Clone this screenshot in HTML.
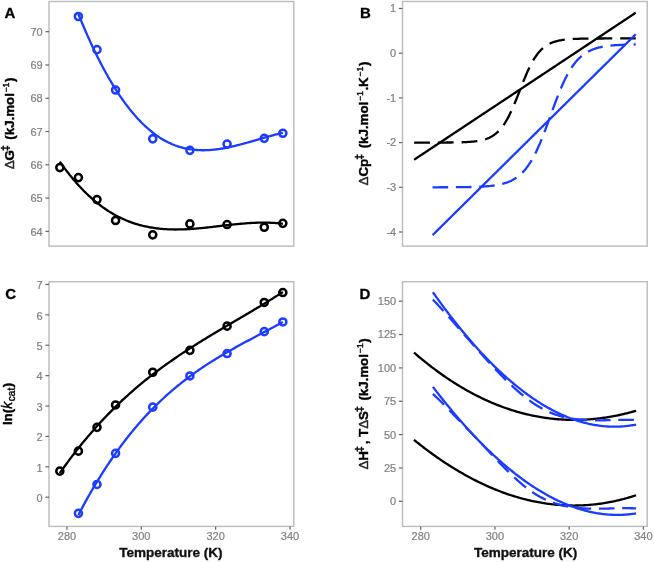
<!DOCTYPE html>
<html><head><meta charset="utf-8"><style>
html,body{margin:0;padding:0;background:#fff;width:654px;height:562px;overflow:hidden}
svg{display:block;filter:blur(0.45px)}
</style></head><body>
<svg width="654" height="562" viewBox="0 0 654 562" font-family="Liberation Sans, sans-serif">
<rect width="654" height="562" fill="#fff"/>
<rect transform="translate(0.5,0.5)" x="48.5" y="1.0" width="244.80" height="244.60" fill="none" stroke="#bdbdbd" stroke-width="1.45"/>
<rect transform="translate(0.5,0.5)" x="402.0" y="1.0" width="244.70" height="244.60" fill="none" stroke="#bdbdbd" stroke-width="1.45"/>
<rect transform="translate(0.5,0.5)" x="48.5" y="281.2" width="244.80" height="244.70" fill="none" stroke="#bdbdbd" stroke-width="1.45"/>
<rect transform="translate(0.5,0.5)" x="402.0" y="281.2" width="244.70" height="244.70" fill="none" stroke="#bdbdbd" stroke-width="1.45"/>
<line transform="translate(0.5,0.5)" x1="44.90" y1="230.85" x2="48.50" y2="230.85" stroke="#666" stroke-width="1.2"/>
<text x="42.70" y="235.55" text-anchor="end" font-size="11" fill="#808080" stroke="#808080" stroke-width="0.2">64</text>
<line transform="translate(0.5,0.5)" x1="44.90" y1="197.57" x2="48.50" y2="197.57" stroke="#666" stroke-width="1.2"/>
<text x="42.70" y="202.27" text-anchor="end" font-size="11" fill="#808080" stroke="#808080" stroke-width="0.2">65</text>
<line transform="translate(0.5,0.5)" x1="44.90" y1="164.30" x2="48.50" y2="164.30" stroke="#666" stroke-width="1.2"/>
<text x="42.70" y="169.00" text-anchor="end" font-size="11" fill="#808080" stroke="#808080" stroke-width="0.2">66</text>
<line transform="translate(0.5,0.5)" x1="44.90" y1="131.03" x2="48.50" y2="131.03" stroke="#666" stroke-width="1.2"/>
<text x="42.70" y="135.72" text-anchor="end" font-size="11" fill="#808080" stroke="#808080" stroke-width="0.2">67</text>
<line transform="translate(0.5,0.5)" x1="44.90" y1="97.75" x2="48.50" y2="97.75" stroke="#666" stroke-width="1.2"/>
<text x="42.70" y="102.45" text-anchor="end" font-size="11" fill="#808080" stroke="#808080" stroke-width="0.2">68</text>
<line transform="translate(0.5,0.5)" x1="44.90" y1="64.47" x2="48.50" y2="64.47" stroke="#666" stroke-width="1.2"/>
<text x="42.70" y="69.17" text-anchor="end" font-size="11" fill="#808080" stroke="#808080" stroke-width="0.2">69</text>
<line transform="translate(0.5,0.5)" x1="44.90" y1="31.20" x2="48.50" y2="31.20" stroke="#666" stroke-width="1.2"/>
<text x="42.70" y="35.90" text-anchor="end" font-size="11" fill="#808080" stroke="#808080" stroke-width="0.2">70</text>
<line transform="translate(0.5,0.5)" x1="398.40" y1="231.50" x2="402.00" y2="231.50" stroke="#666" stroke-width="1.2"/>
<text x="396.20" y="235.60" text-anchor="end" font-size="11" fill="#808080" stroke="#808080" stroke-width="0.2">-4</text>
<line transform="translate(0.5,0.5)" x1="398.40" y1="186.80" x2="402.00" y2="186.80" stroke="#666" stroke-width="1.2"/>
<text x="396.20" y="190.90" text-anchor="end" font-size="11" fill="#808080" stroke="#808080" stroke-width="0.2">-3</text>
<line transform="translate(0.5,0.5)" x1="398.40" y1="142.10" x2="402.00" y2="142.10" stroke="#666" stroke-width="1.2"/>
<text x="396.20" y="146.20" text-anchor="end" font-size="11" fill="#808080" stroke="#808080" stroke-width="0.2">-2</text>
<line transform="translate(0.5,0.5)" x1="398.40" y1="97.40" x2="402.00" y2="97.40" stroke="#666" stroke-width="1.2"/>
<text x="396.20" y="101.50" text-anchor="end" font-size="11" fill="#808080" stroke="#808080" stroke-width="0.2">-1</text>
<line transform="translate(0.5,0.5)" x1="398.40" y1="52.70" x2="402.00" y2="52.70" stroke="#666" stroke-width="1.2"/>
<text x="396.20" y="56.80" text-anchor="end" font-size="11" fill="#808080" stroke="#808080" stroke-width="0.2">0</text>
<line transform="translate(0.5,0.5)" x1="398.40" y1="8.00" x2="402.00" y2="8.00" stroke="#666" stroke-width="1.2"/>
<text x="396.20" y="12.10" text-anchor="end" font-size="11" fill="#808080" stroke="#808080" stroke-width="0.2">1</text>
<line transform="translate(0.5,0.5)" x1="44.90" y1="496.70" x2="48.50" y2="496.70" stroke="#666" stroke-width="1.2"/>
<text x="42.70" y="501.90" text-anchor="end" font-size="11" fill="#808080" stroke="#808080" stroke-width="0.2">0</text>
<line transform="translate(0.5,0.5)" x1="44.90" y1="466.31" x2="48.50" y2="466.31" stroke="#666" stroke-width="1.2"/>
<text x="42.70" y="471.51" text-anchor="end" font-size="11" fill="#808080" stroke="#808080" stroke-width="0.2">1</text>
<line transform="translate(0.5,0.5)" x1="44.90" y1="435.92" x2="48.50" y2="435.92" stroke="#666" stroke-width="1.2"/>
<text x="42.70" y="441.12" text-anchor="end" font-size="11" fill="#808080" stroke="#808080" stroke-width="0.2">2</text>
<line transform="translate(0.5,0.5)" x1="44.90" y1="405.53" x2="48.50" y2="405.53" stroke="#666" stroke-width="1.2"/>
<text x="42.70" y="410.73" text-anchor="end" font-size="11" fill="#808080" stroke="#808080" stroke-width="0.2">3</text>
<line transform="translate(0.5,0.5)" x1="44.90" y1="375.14" x2="48.50" y2="375.14" stroke="#666" stroke-width="1.2"/>
<text x="42.70" y="380.34" text-anchor="end" font-size="11" fill="#808080" stroke="#808080" stroke-width="0.2">4</text>
<line transform="translate(0.5,0.5)" x1="44.90" y1="344.75" x2="48.50" y2="344.75" stroke="#666" stroke-width="1.2"/>
<text x="42.70" y="349.95" text-anchor="end" font-size="11" fill="#808080" stroke="#808080" stroke-width="0.2">5</text>
<line transform="translate(0.5,0.5)" x1="44.90" y1="314.36" x2="48.50" y2="314.36" stroke="#666" stroke-width="1.2"/>
<text x="42.70" y="319.56" text-anchor="end" font-size="11" fill="#808080" stroke="#808080" stroke-width="0.2">6</text>
<line transform="translate(0.5,0.5)" x1="44.90" y1="283.97" x2="48.50" y2="283.97" stroke="#666" stroke-width="1.2"/>
<text x="42.70" y="289.17" text-anchor="end" font-size="11" fill="#808080" stroke="#808080" stroke-width="0.2">7</text>
<line transform="translate(0.5,0.5)" x1="398.40" y1="500.80" x2="402.00" y2="500.80" stroke="#666" stroke-width="1.2"/>
<text x="396.20" y="505.20" text-anchor="end" font-size="11" fill="#808080" stroke="#808080" stroke-width="0.2">0</text>
<line transform="translate(0.5,0.5)" x1="398.40" y1="467.45" x2="402.00" y2="467.45" stroke="#666" stroke-width="1.2"/>
<text x="396.20" y="471.85" text-anchor="end" font-size="11" fill="#808080" stroke="#808080" stroke-width="0.2">25</text>
<line transform="translate(0.5,0.5)" x1="398.40" y1="434.10" x2="402.00" y2="434.10" stroke="#666" stroke-width="1.2"/>
<text x="396.20" y="438.50" text-anchor="end" font-size="11" fill="#808080" stroke="#808080" stroke-width="0.2">50</text>
<line transform="translate(0.5,0.5)" x1="398.40" y1="400.75" x2="402.00" y2="400.75" stroke="#666" stroke-width="1.2"/>
<text x="396.20" y="405.15" text-anchor="end" font-size="11" fill="#808080" stroke="#808080" stroke-width="0.2">75</text>
<line transform="translate(0.5,0.5)" x1="398.40" y1="367.40" x2="402.00" y2="367.40" stroke="#666" stroke-width="1.2"/>
<text x="396.20" y="371.80" text-anchor="end" font-size="11" fill="#808080" stroke="#808080" stroke-width="0.2">100</text>
<line transform="translate(0.5,0.5)" x1="398.40" y1="334.05" x2="402.00" y2="334.05" stroke="#666" stroke-width="1.2"/>
<text x="396.20" y="338.45" text-anchor="end" font-size="11" fill="#808080" stroke="#808080" stroke-width="0.2">125</text>
<line transform="translate(0.5,0.5)" x1="398.40" y1="300.70" x2="402.00" y2="300.70" stroke="#666" stroke-width="1.2"/>
<text x="396.20" y="305.10" text-anchor="end" font-size="11" fill="#808080" stroke="#808080" stroke-width="0.2">150</text>
<line transform="translate(0.5,0.5)" x1="66.45" y1="525.90" x2="66.45" y2="529.30" stroke="#666" stroke-width="1.2"/>
<text x="66.95" y="540.10" text-anchor="middle" font-size="11" fill="#808080" stroke="#808080" stroke-width="0.2">280</text>
<line transform="translate(0.5,0.5)" x1="140.79" y1="525.90" x2="140.79" y2="529.30" stroke="#666" stroke-width="1.2"/>
<text x="141.29" y="540.10" text-anchor="middle" font-size="11" fill="#808080" stroke="#808080" stroke-width="0.2">300</text>
<line transform="translate(0.5,0.5)" x1="215.13" y1="525.90" x2="215.13" y2="529.30" stroke="#666" stroke-width="1.2"/>
<text x="215.63" y="540.10" text-anchor="middle" font-size="11" fill="#808080" stroke="#808080" stroke-width="0.2">320</text>
<line transform="translate(0.5,0.5)" x1="289.47" y1="525.90" x2="289.47" y2="529.30" stroke="#666" stroke-width="1.2"/>
<text x="289.97" y="540.10" text-anchor="middle" font-size="11" fill="#808080" stroke="#808080" stroke-width="0.2">340</text>
<line transform="translate(0.5,0.5)" x1="420.20" y1="525.90" x2="420.20" y2="529.30" stroke="#666" stroke-width="1.2"/>
<text x="420.70" y="540.10" text-anchor="middle" font-size="11" fill="#808080" stroke="#808080" stroke-width="0.2">280</text>
<line transform="translate(0.5,0.5)" x1="494.42" y1="525.90" x2="494.42" y2="529.30" stroke="#666" stroke-width="1.2"/>
<text x="494.92" y="540.10" text-anchor="middle" font-size="11" fill="#808080" stroke="#808080" stroke-width="0.2">300</text>
<line transform="translate(0.5,0.5)" x1="568.64" y1="525.90" x2="568.64" y2="529.30" stroke="#666" stroke-width="1.2"/>
<text x="569.14" y="540.10" text-anchor="middle" font-size="11" fill="#808080" stroke="#808080" stroke-width="0.2">320</text>
<line transform="translate(0.5,0.5)" x1="642.86" y1="525.90" x2="642.86" y2="529.30" stroke="#666" stroke-width="1.2"/>
<text x="643.36" y="540.10" text-anchor="middle" font-size="11" fill="#808080" stroke="#808080" stroke-width="0.2">340</text>
<text x="4.4" y="18.0" font-size="15" font-weight="bold" fill="#000" stroke="#000" stroke-width="0.3">A</text>
<text x="360.0" y="18.0" font-size="15" font-weight="bold" fill="#000" stroke="#000" stroke-width="0.3">B</text>
<text x="5.3" y="298.6" font-size="15" font-weight="bold" fill="#000" stroke="#000" stroke-width="0.3">C</text>
<text x="359.5" y="298.6" font-size="15" font-weight="bold" fill="#000" stroke="#000" stroke-width="0.3">D</text>
<text x="170.9" y="557.4" text-anchor="middle" font-size="13.5" font-weight="bold" fill="#111" stroke="#111" stroke-width="0.35">Temperature (K)</text>
<text x="525.6" y="557.4" text-anchor="middle" font-size="13.5" font-weight="bold" fill="#111" stroke="#111" stroke-width="0.35">Temperature (K)</text>
<text transform="translate(14.4,123.4) rotate(-90)" text-anchor="middle" font-size="13.3" font-weight="bold" fill="#000" stroke="#000" stroke-width="0.4"><tspan font-weight="normal" fill="#3a3a3a">Δ</tspan>G<tspan font-size="10.5" dx="-1.0" dy="-5.6">‡</tspan><tspan dx="1.9" dy="5.6"> (kJ.mol<tspan font-size="8.8" font-weight="normal" fill="#222" dx="0.6" dy="-5.4">−1</tspan><tspan dx="0.6" dy="5.4">)</tspan></tspan></text>
<text transform="translate(368.1,123.5) rotate(-90)" text-anchor="middle" font-size="13.3" font-weight="bold" fill="#000" stroke="#000" stroke-width="0.4"><tspan font-weight="normal" fill="#3a3a3a">Δ</tspan>Cp<tspan font-size="10.5" dx="-1.0" dy="-5.6">‡</tspan><tspan dx="1.9" dy="5.6"> (kJ.mol<tspan font-size="8.8" font-weight="normal" fill="#222" dx="0.6" dy="-5.4">−1</tspan><tspan dx="0.6" dy="5.4">.K<tspan font-size="8.8" font-weight="normal" fill="#222" dx="0.6" dy="-5.4">−1</tspan><tspan dx="0.6" dy="5.4">)</tspan></tspan></tspan></text>
<text transform="translate(12.4,403.9) rotate(-90)" text-anchor="middle" font-size="13.3" font-weight="bold" fill="#000" stroke="#000" stroke-width="0.4">ln(<tspan font-style="italic" font-weight="normal" font-size="13.8">k</tspan><tspan font-size="10.2" font-weight="normal" dx="0.6" dy="3">cat</tspan><tspan dx="0.6" dy="-3">)</tspan></text>
<text transform="translate(368.1,404.0) rotate(-90)" text-anchor="middle" font-size="13.3" font-weight="bold" fill="#000" stroke="#000" stroke-width="0.4"><tspan font-weight="normal" fill="#3a3a3a">Δ</tspan>H<tspan font-size="10.5" dx="-1.0" dy="-5.6">‡</tspan><tspan dx="1.9" dy="5.6">, T<tspan font-weight="normal" fill="#3a3a3a">Δ</tspan>S<tspan font-size="10.5" dx="-1.0" dy="-5.6">‡</tspan><tspan dx="1.9" dy="5.6"> (kJ.mol<tspan font-size="8.8" font-weight="normal" fill="#222" dx="0.6" dy="-5.4">−1</tspan><tspan dx="0.6" dy="5.4">)</tspan></tspan></tspan></text>
<path transform="translate(0.5,0.5)" d="M59.32,161.08 L60.72,163.09 L62.12,165.06 L63.52,166.99 L64.93,168.88 L66.33,170.73 L67.73,172.55 L69.13,174.34 L70.54,176.08 L71.94,177.79 L73.34,179.47 L74.75,181.11 L76.15,182.72 L77.55,184.29 L78.95,185.82 L80.36,187.33 L81.76,188.80 L83.16,190.24 L84.56,191.64 L85.97,193.01 L87.37,194.35 L88.77,195.66 L90.17,196.94 L91.58,198.19 L92.98,199.40 L94.38,200.59 L95.78,201.74 L97.19,202.87 L98.59,203.97 L99.99,205.03 L101.40,206.07 L102.80,207.08 L104.20,208.06 L105.60,209.02 L107.01,209.95 L108.41,210.85 L109.81,211.72 L111.21,212.57 L112.62,213.39 L114.02,214.19 L115.42,214.96 L116.82,215.70 L118.23,216.43 L119.63,217.12 L121.03,217.80 L122.43,218.45 L123.84,219.07 L125.24,219.68 L126.64,220.26 L128.05,220.82 L129.45,221.35 L130.85,221.87 L132.25,222.36 L133.66,222.83 L135.06,223.29 L136.46,223.72 L137.86,224.13 L139.27,224.52 L140.67,224.90 L142.07,225.25 L143.47,225.59 L144.88,225.91 L146.28,226.21 L147.68,226.49 L149.09,226.76 L150.49,227.00 L151.89,227.24 L153.29,227.45 L154.70,227.65 L156.10,227.84 L157.50,228.01 L158.90,228.16 L160.31,228.30 L161.71,228.43 L163.11,228.54 L164.51,228.64 L165.92,228.72 L167.32,228.80 L168.72,228.86 L170.12,228.90 L171.53,228.94 L172.93,228.96 L174.33,228.98 L175.74,228.98 L177.14,228.97 L178.54,228.96 L179.94,228.93 L181.35,228.89 L182.75,228.85 L184.15,228.79 L185.55,228.73 L186.96,228.66 L188.36,228.58 L189.76,228.49 L191.16,228.40 L192.57,228.30 L193.97,228.19 L195.37,228.08 L196.77,227.96 L198.18,227.83 L199.58,227.70 L200.98,227.57 L202.39,227.43 L203.79,227.29 L205.19,227.14 L206.59,226.99 L208.00,226.84 L209.40,226.69 L210.80,226.53 L212.20,226.37 L213.61,226.21 L215.01,226.05 L216.41,225.88 L217.81,225.72 L219.22,225.55 L220.62,225.39 L222.02,225.22 L223.43,225.06 L224.83,224.90 L226.23,224.74 L227.63,224.58 L229.04,224.42 L230.44,224.26 L231.84,224.11 L233.24,223.96 L234.65,223.81 L236.05,223.67 L237.45,223.53 L238.85,223.40 L240.26,223.27 L241.66,223.15 L243.06,223.03 L244.46,222.91 L245.87,222.81 L247.27,222.70 L248.67,222.61 L250.08,222.52 L251.48,222.44 L252.88,222.37 L254.28,222.31 L255.69,222.25 L257.09,222.20 L258.49,222.17 L259.89,222.14 L261.30,222.12 L262.70,222.11 L264.10,222.11 L265.50,222.12 L266.91,222.15 L268.31,222.18 L269.71,222.23 L271.11,222.29 L272.52,222.36 L273.92,222.45 L275.32,222.54 L276.73,222.65 L278.13,222.78 L279.53,222.92 L280.93,223.07 L282.34,223.24" fill="none" stroke="#000" stroke-width="2.3" stroke-linejoin="round"/>
<path transform="translate(0.5,0.5)" d="M77.90,13.52 L79.19,16.71 L80.47,19.85 L81.76,22.94 L83.04,26.00 L84.33,29.01 L85.62,31.97 L86.90,34.90 L88.19,37.78 L89.47,40.62 L90.76,43.42 L92.04,46.18 L93.33,48.90 L94.62,51.57 L95.90,54.21 L97.19,56.80 L98.47,59.35 L99.76,61.86 L101.04,64.33 L102.33,66.76 L103.62,69.15 L104.90,71.50 L106.19,73.81 L107.47,76.09 L108.76,78.32 L110.04,80.51 L111.33,82.67 L112.62,84.78 L113.90,86.86 L115.19,88.90 L116.47,90.90 L117.76,92.86 L119.05,94.79 L120.33,96.68 L121.62,98.53 L122.90,100.34 L124.19,102.12 L125.47,103.86 L126.76,105.56 L128.05,107.23 L129.33,108.86 L130.62,110.46 L131.90,112.02 L133.19,113.54 L134.47,115.03 L135.76,116.48 L137.05,117.90 L138.33,119.29 L139.62,120.64 L140.90,121.95 L142.19,123.23 L143.47,124.48 L144.76,125.69 L146.05,126.87 L147.33,128.01 L148.62,129.13 L149.90,130.21 L151.19,131.25 L152.47,132.27 L153.76,133.25 L155.05,134.20 L156.33,135.12 L157.62,136.00 L158.90,136.86 L160.19,137.68 L161.48,138.47 L162.76,139.23 L164.05,139.96 L165.33,140.66 L166.62,141.33 L167.90,141.97 L169.19,142.58 L170.48,143.16 L171.76,143.72 L173.05,144.25 L174.33,144.75 L175.62,145.22 L176.90,145.67 L178.19,146.09 L179.48,146.49 L180.76,146.86 L182.05,147.21 L183.33,147.53 L184.62,147.83 L185.90,148.10 L187.19,148.36 L188.48,148.59 L189.76,148.79 L191.05,148.98 L192.33,149.14 L193.62,149.29 L194.90,149.41 L196.19,149.51 L197.48,149.59 L198.76,149.66 L200.05,149.70 L201.33,149.73 L202.62,149.74 L203.90,149.73 L205.19,149.70 L206.48,149.66 L207.76,149.60 L209.05,149.53 L210.33,149.43 L211.62,149.33 L212.91,149.21 L214.19,149.07 L215.48,148.92 L216.76,148.76 L218.05,148.59 L219.33,148.40 L220.62,148.20 L221.91,147.99 L223.19,147.76 L224.48,147.53 L225.76,147.28 L227.05,147.03 L228.33,146.76 L229.62,146.49 L230.91,146.20 L232.19,145.91 L233.48,145.61 L234.76,145.30 L236.05,144.99 L237.33,144.67 L238.62,144.34 L239.91,144.01 L241.19,143.67 L242.48,143.32 L243.76,142.97 L245.05,142.62 L246.33,142.26 L247.62,141.90 L248.91,141.54 L250.19,141.17 L251.48,140.80 L252.76,140.43 L254.05,140.05 L255.34,139.68 L256.62,139.31 L257.91,138.93 L259.19,138.56 L260.48,138.18 L261.76,137.81 L263.05,137.44 L264.34,137.07 L265.62,136.70 L266.91,136.34 L268.19,135.98 L269.48,135.62 L270.76,135.27 L272.05,134.92 L273.34,134.57 L274.62,134.23 L275.91,133.90 L277.19,133.57 L278.48,133.25 L279.76,132.93 L281.05,132.63 L282.34,132.33" fill="none" stroke="#1c3cff" stroke-width="2.3" stroke-linejoin="round"/>
<circle transform="translate(0.5,0.5)" cx="59.32" cy="167.10" r="3.55" fill="none" stroke="#000" stroke-width="2.5"/>
<circle transform="translate(0.5,0.5)" cx="77.90" cy="177.10" r="3.55" fill="none" stroke="#000" stroke-width="2.5"/>
<circle transform="translate(0.5,0.5)" cx="96.49" cy="199.10" r="3.55" fill="none" stroke="#000" stroke-width="2.5"/>
<circle transform="translate(0.5,0.5)" cx="115.07" cy="220.00" r="3.55" fill="none" stroke="#000" stroke-width="2.5"/>
<circle transform="translate(0.5,0.5)" cx="152.24" cy="234.35" r="3.55" fill="none" stroke="#000" stroke-width="2.5"/>
<circle transform="translate(0.5,0.5)" cx="189.41" cy="223.40" r="3.55" fill="none" stroke="#000" stroke-width="2.5"/>
<circle transform="translate(0.5,0.5)" cx="226.58" cy="224.05" r="3.55" fill="none" stroke="#000" stroke-width="2.5"/>
<circle transform="translate(0.5,0.5)" cx="263.75" cy="226.75" r="3.55" fill="none" stroke="#000" stroke-width="2.5"/>
<circle transform="translate(0.5,0.5)" cx="282.34" cy="222.85" r="3.55" fill="none" stroke="#000" stroke-width="2.5"/>
<circle transform="translate(0.5,0.5)" cx="77.90" cy="16.00" r="3.55" fill="none" stroke="#1c3cff" stroke-width="2.5"/>
<circle transform="translate(0.5,0.5)" cx="96.49" cy="49.15" r="3.55" fill="none" stroke="#1c3cff" stroke-width="2.5"/>
<circle transform="translate(0.5,0.5)" cx="115.07" cy="89.55" r="3.55" fill="none" stroke="#1c3cff" stroke-width="2.5"/>
<circle transform="translate(0.5,0.5)" cx="152.24" cy="138.35" r="3.55" fill="none" stroke="#1c3cff" stroke-width="2.5"/>
<circle transform="translate(0.5,0.5)" cx="189.41" cy="149.85" r="3.55" fill="none" stroke="#1c3cff" stroke-width="2.5"/>
<circle transform="translate(0.5,0.5)" cx="226.58" cy="143.55" r="3.55" fill="none" stroke="#1c3cff" stroke-width="2.5"/>
<circle transform="translate(0.5,0.5)" cx="263.75" cy="137.85" r="3.55" fill="none" stroke="#1c3cff" stroke-width="2.5"/>
<circle transform="translate(0.5,0.5)" cx="282.34" cy="132.75" r="3.55" fill="none" stroke="#1c3cff" stroke-width="2.5"/>
<path transform="translate(0.5,0.5)" d="M59.32,472.61 L60.81,470.48 L62.31,468.38 L63.81,466.29 L65.30,464.22 L66.80,462.18 L68.30,460.16 L69.79,458.15 L71.29,456.17 L72.79,454.20 L74.28,452.26 L75.78,450.34 L77.28,448.43 L78.77,446.55 L80.27,444.68 L81.77,442.84 L83.26,441.01 L84.76,439.20 L86.26,437.41 L87.75,435.63 L89.25,433.88 L90.75,432.14 L92.25,430.42 L93.74,428.72 L95.24,427.04 L96.74,425.37 L98.23,423.72 L99.73,422.08 L101.23,420.47 L102.72,418.87 L104.22,417.28 L105.72,415.71 L107.21,414.16 L108.71,412.62 L110.21,411.10 L111.70,409.60 L113.20,408.10 L114.70,406.63 L116.19,405.17 L117.69,403.72 L119.19,402.29 L120.68,400.87 L122.18,399.46 L123.68,398.07 L125.17,396.70 L126.67,395.33 L128.17,393.98 L129.66,392.65 L131.16,391.32 L132.66,390.01 L134.15,388.71 L135.65,387.42 L137.15,386.15 L138.65,384.89 L140.14,383.64 L141.64,382.40 L143.14,381.17 L144.63,379.95 L146.13,378.75 L147.63,377.55 L149.12,376.37 L150.62,375.20 L152.12,374.03 L153.61,372.88 L155.11,371.74 L156.61,370.60 L158.10,369.48 L159.60,368.37 L161.10,367.26 L162.59,366.17 L164.09,365.08 L165.59,364.00 L167.08,362.93 L168.58,361.87 L170.08,360.82 L171.57,359.77 L173.07,358.73 L174.57,357.70 L176.06,356.68 L177.56,355.66 L179.06,354.65 L180.56,353.65 L182.05,352.66 L183.55,351.67 L185.05,350.69 L186.54,349.71 L188.04,348.74 L189.54,347.78 L191.03,346.82 L192.53,345.86 L194.03,344.91 L195.52,343.97 L197.02,343.03 L198.52,342.10 L200.01,341.17 L201.51,340.24 L203.01,339.32 L204.50,338.40 L206.00,337.49 L207.50,336.58 L208.99,335.67 L210.49,334.77 L211.99,333.87 L213.48,332.97 L214.98,332.08 L216.48,331.18 L217.97,330.29 L219.47,329.40 L220.97,328.52 L222.46,327.63 L223.96,326.75 L225.46,325.87 L226.96,324.99 L228.45,324.11 L229.95,323.23 L231.45,322.35 L232.94,321.47 L234.44,320.59 L235.94,319.71 L237.43,318.84 L238.93,317.96 L240.43,317.08 L241.92,316.20 L243.42,315.32 L244.92,314.44 L246.41,313.55 L247.91,312.67 L249.41,311.78 L250.90,310.90 L252.40,310.01 L253.90,309.11 L255.39,308.22 L256.89,307.32 L258.39,306.42 L259.88,305.52 L261.38,304.61 L262.88,303.71 L264.37,302.79 L265.87,301.88 L267.37,300.96 L268.86,300.03 L270.36,299.11 L271.86,298.17 L273.36,297.24 L274.85,296.30 L276.35,295.35 L277.85,294.40 L279.34,293.44 L280.84,292.48 L282.34,291.51" fill="none" stroke="#000" stroke-width="2.3" stroke-linejoin="round"/>
<path transform="translate(0.5,0.5)" d="M77.90,514.43 L79.27,511.81 L80.65,509.22 L82.02,506.66 L83.39,504.12 L84.76,501.61 L86.13,499.14 L87.51,496.68 L88.88,494.26 L90.25,491.86 L91.62,489.49 L92.99,487.14 L94.37,484.83 L95.74,482.53 L97.11,480.27 L98.48,478.03 L99.85,475.81 L101.23,473.62 L102.60,471.46 L103.97,469.32 L105.34,467.20 L106.71,465.11 L108.09,463.04 L109.46,461.00 L110.83,458.98 L112.20,456.99 L113.57,455.01 L114.95,453.06 L116.32,451.14 L117.69,449.24 L119.06,447.35 L120.43,445.50 L121.81,443.66 L123.18,441.84 L124.55,440.05 L125.92,438.28 L127.29,436.53 L128.67,434.80 L130.04,433.09 L131.41,431.40 L132.78,429.73 L134.15,428.08 L135.53,426.45 L136.90,424.84 L138.27,423.26 L139.64,421.68 L141.02,420.13 L142.39,418.60 L143.76,417.09 L145.13,415.59 L146.50,414.11 L147.88,412.65 L149.25,411.21 L150.62,409.79 L151.99,408.38 L153.36,406.99 L154.74,405.62 L156.11,404.26 L157.48,402.92 L158.85,401.60 L160.22,400.29 L161.60,399.00 L162.97,397.72 L164.34,396.46 L165.71,395.21 L167.08,393.98 L168.46,392.76 L169.83,391.56 L171.20,390.37 L172.57,389.20 L173.94,388.04 L175.32,386.89 L176.69,385.76 L178.06,384.64 L179.43,383.53 L180.80,382.44 L182.18,381.35 L183.55,380.29 L184.92,379.23 L186.29,378.18 L187.66,377.15 L189.04,376.12 L190.41,375.11 L191.78,374.11 L193.15,373.12 L194.52,372.14 L195.90,371.17 L197.27,370.22 L198.64,369.27 L200.01,368.33 L201.39,367.40 L202.76,366.48 L204.13,365.57 L205.50,364.66 L206.87,363.77 L208.25,362.88 L209.62,362.01 L210.99,361.14 L212.36,360.28 L213.73,359.42 L215.11,358.57 L216.48,357.73 L217.85,356.90 L219.22,356.08 L220.59,355.26 L221.97,354.44 L223.34,353.63 L224.71,352.83 L226.08,352.04 L227.45,351.25 L228.83,350.46 L230.20,349.68 L231.57,348.90 L232.94,348.13 L234.31,347.37 L235.69,346.60 L237.06,345.84 L238.43,345.09 L239.80,344.33 L241.17,343.59 L242.55,342.84 L243.92,342.10 L245.29,341.36 L246.66,340.62 L248.03,339.88 L249.41,339.15 L250.78,338.41 L252.15,337.68 L253.52,336.95 L254.90,336.22 L256.27,335.50 L257.64,334.77 L259.01,334.04 L260.38,333.31 L261.76,332.59 L263.13,331.86 L264.50,331.13 L265.87,330.40 L267.24,329.68 L268.62,328.94 L269.99,328.21 L271.36,327.48 L272.73,326.74 L274.10,326.01 L275.48,325.27 L276.85,324.53 L278.22,323.78 L279.59,323.04 L280.96,322.28 L282.34,321.53" fill="none" stroke="#1c3cff" stroke-width="2.3" stroke-linejoin="round"/>
<circle transform="translate(0.5,0.5)" cx="59.32" cy="470.65" r="3.55" fill="none" stroke="#000" stroke-width="2.5"/>
<circle transform="translate(0.5,0.5)" cx="77.90" cy="450.65" r="3.55" fill="none" stroke="#000" stroke-width="2.5"/>
<circle transform="translate(0.5,0.5)" cx="96.49" cy="426.85" r="3.55" fill="none" stroke="#000" stroke-width="2.5"/>
<circle transform="translate(0.5,0.5)" cx="115.07" cy="404.45" r="3.55" fill="none" stroke="#000" stroke-width="2.5"/>
<circle transform="translate(0.5,0.5)" cx="152.24" cy="371.75" r="3.55" fill="none" stroke="#000" stroke-width="2.5"/>
<circle transform="translate(0.5,0.5)" cx="189.41" cy="349.85" r="3.55" fill="none" stroke="#000" stroke-width="2.5"/>
<circle transform="translate(0.5,0.5)" cx="226.58" cy="325.65" r="3.55" fill="none" stroke="#000" stroke-width="2.5"/>
<circle transform="translate(0.5,0.5)" cx="263.75" cy="301.95" r="3.55" fill="none" stroke="#000" stroke-width="2.5"/>
<circle transform="translate(0.5,0.5)" cx="282.34" cy="292.05" r="3.55" fill="none" stroke="#000" stroke-width="2.5"/>
<circle transform="translate(0.5,0.5)" cx="77.90" cy="512.85" r="3.55" fill="none" stroke="#1c3cff" stroke-width="2.5"/>
<circle transform="translate(0.5,0.5)" cx="96.49" cy="483.95" r="3.55" fill="none" stroke="#1c3cff" stroke-width="2.5"/>
<circle transform="translate(0.5,0.5)" cx="115.07" cy="452.85" r="3.55" fill="none" stroke="#1c3cff" stroke-width="2.5"/>
<circle transform="translate(0.5,0.5)" cx="152.24" cy="406.65" r="3.55" fill="none" stroke="#1c3cff" stroke-width="2.5"/>
<circle transform="translate(0.5,0.5)" cx="189.41" cy="375.45" r="3.55" fill="none" stroke="#1c3cff" stroke-width="2.5"/>
<circle transform="translate(0.5,0.5)" cx="226.58" cy="353.05" r="3.55" fill="none" stroke="#1c3cff" stroke-width="2.5"/>
<circle transform="translate(0.5,0.5)" cx="263.75" cy="331.15" r="3.55" fill="none" stroke="#1c3cff" stroke-width="2.5"/>
<circle transform="translate(0.5,0.5)" cx="282.34" cy="321.45" r="3.55" fill="none" stroke="#1c3cff" stroke-width="2.5"/>
<path transform="translate(0.5,0.5)" d="M413.61,142.10 L414.54,142.10 L415.47,142.10 L416.39,142.10 L417.32,142.10 L418.25,142.09 L419.18,142.09 L420.10,142.09 L421.03,142.09 L421.96,142.09 L422.89,142.09 L423.81,142.09 L424.74,142.09 L425.67,142.09 L426.60,142.09 L427.52,142.09 L428.45,142.09 L429.38,142.09 L430.31,142.08 L431.23,142.08 L432.16,142.08 L433.09,142.08 L434.02,142.08 L434.95,142.07 L435.87,142.07 L436.80,142.07 L437.73,142.07 L438.66,142.06 L439.58,142.06 L440.51,142.06 L441.44,142.05 L442.37,142.05 L443.29,142.04 L444.22,142.04 L445.15,142.03 L446.08,142.02 L447.00,142.02 L447.93,142.01 L448.86,142.00 L449.79,141.99 L450.71,141.98 L451.64,141.97 L452.57,141.95 L453.50,141.94 L454.43,141.92 L455.35,141.91 L456.28,141.89 L457.21,141.87 L458.14,141.85 L459.06,141.82 L459.99,141.80 L460.92,141.77 L461.85,141.74 L462.77,141.70 L463.70,141.66 L464.63,141.62 L465.56,141.58 L466.48,141.53 L467.41,141.47 L468.34,141.41 L469.27,141.35 L470.19,141.28 L471.12,141.20 L472.05,141.11 L472.98,141.02 L473.90,140.92 L474.83,140.81 L475.76,140.68 L476.69,140.55 L477.62,140.40 L478.54,140.24 L479.47,140.07 L480.40,139.88 L481.33,139.67 L482.25,139.45 L483.18,139.20 L484.11,138.93 L485.04,138.64 L485.96,138.32 L486.89,137.97 L487.82,137.60 L488.75,137.19 L489.67,136.74 L490.60,136.26 L491.53,135.73 L492.46,135.17 L493.38,134.55 L494.31,133.89 L495.24,133.17 L496.17,132.39 L497.10,131.56 L498.02,130.66 L498.95,129.70 L499.88,128.67 L500.81,127.56 L501.73,126.38 L502.66,125.13 L503.59,123.79 L504.52,122.37 L505.44,120.87 L506.37,119.28 L507.30,117.61 L508.23,115.86 L509.15,114.03 L510.08,112.12 L511.01,110.14 L511.94,108.08 L512.86,105.95 L513.79,103.77 L514.72,101.53 L515.65,99.25 L516.58,96.93 L517.50,94.58 L518.43,92.22 L519.36,89.84 L520.29,87.47 L521.21,85.10 L522.14,82.76 L523.07,80.44 L524.00,78.17 L524.92,75.94 L525.85,73.77 L526.78,71.65 L527.71,69.60 L528.63,67.63 L529.56,65.73 L530.49,63.91 L531.42,62.17 L532.34,60.52 L533.27,58.95 L534.20,57.46 L535.13,56.05 L536.06,54.73 L536.98,53.48 L537.91,52.31 L538.84,51.22 L539.77,50.20 L540.69,49.24 L541.62,48.36 L542.55,47.53 L543.48,46.77 L544.40,46.06 L545.33,45.40 L546.26,44.79 L547.19,44.23 L548.11,43.71 L549.04,43.24 L549.97,42.80 L550.90,42.39 L551.82,42.02 L552.75,41.68 L553.68,41.36 L554.61,41.07 L555.54,40.81 L556.46,40.57 L557.39,40.34 L558.32,40.14 L559.25,39.95 L560.17,39.78 L561.10,39.62 L562.03,39.48 L562.96,39.35 L563.88,39.23 L564.81,39.12 L565.74,39.02 L566.67,38.92 L567.59,38.84 L568.52,38.76 L569.45,38.69 L570.38,38.63 L571.30,38.57 L572.23,38.51 L573.16,38.47 L574.09,38.42 L575.02,38.38 L575.94,38.34 L576.87,38.31 L577.80,38.28 L578.73,38.25 L579.65,38.22 L580.58,38.20 L581.51,38.18 L582.44,38.16 L583.36,38.14 L584.29,38.12 L585.22,38.11 L586.15,38.09 L587.07,38.08 L588.00,38.07 L588.93,38.06 L589.86,38.05 L590.78,38.04 L591.71,38.03 L592.64,38.03 L593.57,38.02 L594.49,38.01 L595.42,38.01 L596.35,38.00 L597.28,38.00 L598.21,37.99 L599.13,37.99 L600.06,37.99 L600.99,37.98 L601.92,37.98 L602.84,37.98 L603.77,37.97 L604.70,37.97 L605.63,37.97 L606.55,37.97 L607.48,37.97 L608.41,37.97 L609.34,37.96 L610.26,37.96 L611.19,37.96 L612.12,37.96 L613.05,37.96 L613.97,37.96 L614.90,37.96 L615.83,37.96 L616.76,37.96 L617.69,37.96 L618.61,37.95 L619.54,37.95 L620.47,37.95 L621.40,37.95 L622.32,37.95 L623.25,37.95 L624.18,37.95 L625.11,37.95 L626.03,37.95 L626.96,37.95 L627.89,37.95 L628.82,37.95 L629.74,37.95 L630.67,37.95 L631.60,37.95 L632.53,37.95 L633.45,37.95 L634.38,37.95 L635.31,37.95" fill="none" stroke="#000" stroke-width="2.3" stroke-dasharray="15.8 7.95" stroke-dashoffset="0" stroke-linejoin="round"/>
<path transform="translate(0.5,0.5)" d="M413.61,159.22 L414.54,158.60 L415.47,157.99 L416.39,157.37 L417.32,156.76 L418.25,156.14 L419.18,155.53 L420.10,154.91 L421.03,154.30 L421.96,153.68 L422.89,153.07 L423.81,152.45 L424.74,151.84 L425.67,151.22 L426.60,150.61 L427.52,149.99 L428.45,149.38 L429.38,148.76 L430.31,148.15 L431.23,147.53 L432.16,146.92 L433.09,146.30 L434.02,145.69 L434.95,145.07 L435.87,144.46 L436.80,143.84 L437.73,143.23 L438.66,142.61 L439.58,142.00 L440.51,141.38 L441.44,140.77 L442.37,140.15 L443.29,139.54 L444.22,138.92 L445.15,138.31 L446.08,137.69 L447.00,137.08 L447.93,136.46 L448.86,135.84 L449.79,135.23 L450.71,134.61 L451.64,134.00 L452.57,133.38 L453.50,132.77 L454.43,132.15 L455.35,131.54 L456.28,130.92 L457.21,130.31 L458.14,129.69 L459.06,129.08 L459.99,128.46 L460.92,127.85 L461.85,127.23 L462.77,126.62 L463.70,126.00 L464.63,125.39 L465.56,124.77 L466.48,124.16 L467.41,123.54 L468.34,122.93 L469.27,122.31 L470.19,121.70 L471.12,121.08 L472.05,120.47 L472.98,119.85 L473.90,119.24 L474.83,118.62 L475.76,118.01 L476.69,117.39 L477.62,116.78 L478.54,116.16 L479.47,115.55 L480.40,114.93 L481.33,114.31 L482.25,113.70 L483.18,113.08 L484.11,112.47 L485.04,111.85 L485.96,111.24 L486.89,110.62 L487.82,110.01 L488.75,109.39 L489.67,108.78 L490.60,108.16 L491.53,107.55 L492.46,106.93 L493.38,106.32 L494.31,105.70 L495.24,105.09 L496.17,104.47 L497.10,103.86 L498.02,103.24 L498.95,102.63 L499.88,102.01 L500.81,101.40 L501.73,100.78 L502.66,100.17 L503.59,99.55 L504.52,98.94 L505.44,98.32 L506.37,97.71 L507.30,97.09 L508.23,96.48 L509.15,95.86 L510.08,95.25 L511.01,94.63 L511.94,94.02 L512.86,93.40 L513.79,92.79 L514.72,92.17 L515.65,91.55 L516.58,90.94 L517.50,90.32 L518.43,89.71 L519.36,89.09 L520.29,88.48 L521.21,87.86 L522.14,87.25 L523.07,86.63 L524.00,86.02 L524.92,85.40 L525.85,84.79 L526.78,84.17 L527.71,83.56 L528.63,82.94 L529.56,82.33 L530.49,81.71 L531.42,81.10 L532.34,80.48 L533.27,79.87 L534.20,79.25 L535.13,78.64 L536.06,78.02 L536.98,77.41 L537.91,76.79 L538.84,76.18 L539.77,75.56 L540.69,74.95 L541.62,74.33 L542.55,73.72 L543.48,73.10 L544.40,72.49 L545.33,71.87 L546.26,71.26 L547.19,70.64 L548.11,70.02 L549.04,69.41 L549.97,68.79 L550.90,68.18 L551.82,67.56 L552.75,66.95 L553.68,66.33 L554.61,65.72 L555.54,65.10 L556.46,64.49 L557.39,63.87 L558.32,63.26 L559.25,62.64 L560.17,62.03 L561.10,61.41 L562.03,60.80 L562.96,60.18 L563.88,59.57 L564.81,58.95 L565.74,58.34 L566.67,57.72 L567.59,57.11 L568.52,56.49 L569.45,55.88 L570.38,55.26 L571.30,54.65 L572.23,54.03 L573.16,53.42 L574.09,52.80 L575.02,52.19 L575.94,51.57 L576.87,50.96 L577.80,50.34 L578.73,49.73 L579.65,49.11 L580.58,48.50 L581.51,47.88 L582.44,47.26 L583.36,46.65 L584.29,46.03 L585.22,45.42 L586.15,44.80 L587.07,44.19 L588.00,43.57 L588.93,42.96 L589.86,42.34 L590.78,41.73 L591.71,41.11 L592.64,40.50 L593.57,39.88 L594.49,39.27 L595.42,38.65 L596.35,38.04 L597.28,37.42 L598.21,36.81 L599.13,36.19 L600.06,35.58 L600.99,34.96 L601.92,34.35 L602.84,33.73 L603.77,33.12 L604.70,32.50 L605.63,31.89 L606.55,31.27 L607.48,30.66 L608.41,30.04 L609.34,29.43 L610.26,28.81 L611.19,28.20 L612.12,27.58 L613.05,26.97 L613.97,26.35 L614.90,25.73 L615.83,25.12 L616.76,24.50 L617.69,23.89 L618.61,23.27 L619.54,22.66 L620.47,22.04 L621.40,21.43 L622.32,20.81 L623.25,20.20 L624.18,19.58 L625.11,18.97 L626.03,18.35 L626.96,17.74 L627.89,17.12 L628.82,16.51 L629.74,15.89 L630.67,15.28 L631.60,14.66 L632.53,14.05 L633.45,13.43 L634.38,12.82 L635.31,12.20" fill="none" stroke="#000" stroke-width="2.3" stroke-linejoin="round"/>
<path transform="translate(0.5,0.5)" d="M432.08,186.78 L432.94,186.78 L433.79,186.78 L434.64,186.78 L435.49,186.78 L436.34,186.78 L437.19,186.78 L438.04,186.78 L438.89,186.77 L439.74,186.77 L440.59,186.77 L441.44,186.77 L442.29,186.77 L443.14,186.76 L443.99,186.76 L444.84,186.76 L445.69,186.75 L446.54,186.75 L447.39,186.75 L448.24,186.75 L449.09,186.74 L449.94,186.74 L450.79,186.73 L451.64,186.73 L452.49,186.72 L453.34,186.72 L454.19,186.71 L455.04,186.71 L455.89,186.70 L456.74,186.69 L457.59,186.69 L458.44,186.68 L459.30,186.67 L460.15,186.66 L461.00,186.65 L461.85,186.64 L462.70,186.63 L463.55,186.62 L464.40,186.61 L465.25,186.60 L466.10,186.58 L466.95,186.57 L467.80,186.55 L468.65,186.53 L469.50,186.52 L470.35,186.50 L471.20,186.48 L472.05,186.45 L472.90,186.43 L473.75,186.41 L474.60,186.38 L475.45,186.35 L476.30,186.32 L477.15,186.29 L478.00,186.25 L478.85,186.22 L479.70,186.18 L480.55,186.14 L481.40,186.09 L482.25,186.04 L483.10,185.99 L483.95,185.94 L484.80,185.88 L485.65,185.82 L486.51,185.75 L487.36,185.68 L488.21,185.60 L489.06,185.52 L489.91,185.44 L490.76,185.34 L491.61,185.25 L492.46,185.14 L493.31,185.03 L494.16,184.91 L495.01,184.79 L495.86,184.65 L496.71,184.51 L497.56,184.35 L498.41,184.19 L499.26,184.02 L500.11,183.83 L500.96,183.63 L501.81,183.42 L502.66,183.20 L503.51,182.96 L504.36,182.71 L505.21,182.44 L506.06,182.15 L506.91,181.85 L507.76,181.52 L508.61,181.18 L509.46,180.81 L510.31,180.43 L511.16,180.01 L512.01,179.58 L512.86,179.11 L513.72,178.62 L514.57,178.10 L515.42,177.54 L516.27,176.96 L517.12,176.34 L517.97,175.68 L518.82,174.99 L519.67,174.26 L520.52,173.48 L521.37,172.67 L522.22,171.81 L523.07,170.90 L523.92,169.95 L524.77,168.95 L525.62,167.89 L526.47,166.79 L527.32,165.63 L528.17,164.41 L529.02,163.14 L529.87,161.82 L530.72,160.43 L531.57,158.99 L532.42,157.49 L533.27,155.92 L534.12,154.30 L534.97,152.62 L535.82,150.88 L536.67,149.09 L537.52,147.23 L538.37,145.32 L539.22,143.36 L540.07,141.35 L540.93,139.28 L541.78,137.17 L542.63,135.02 L543.48,132.83 L544.33,130.60 L545.18,128.35 L546.03,126.06 L546.88,123.75 L547.73,121.43 L548.58,119.09 L549.43,116.74 L550.28,114.39 L551.13,112.04 L551.98,109.70 L552.83,107.37 L553.68,105.05 L554.53,102.76 L555.38,100.50 L556.23,98.26 L557.08,96.06 L557.93,93.90 L558.78,91.78 L559.63,89.71 L560.48,87.68 L561.33,85.70 L562.18,83.78 L563.03,81.91 L563.88,80.10 L564.73,78.35 L565.58,76.65 L566.43,75.02 L567.28,73.44 L568.14,71.93 L568.99,70.47 L569.84,69.07 L570.69,67.73 L571.54,66.45 L572.39,65.22 L573.24,64.05 L574.09,62.93 L574.94,61.86 L575.79,60.85 L576.64,59.88 L577.49,58.97 L578.34,58.10 L579.19,57.27 L580.04,56.49 L580.89,55.74 L581.74,55.04 L582.59,54.38 L583.44,53.75 L584.29,53.16 L585.14,52.59 L585.99,52.06 L586.84,51.57 L587.69,51.09 L588.54,50.65 L589.39,50.23 L590.24,49.84 L591.09,49.47 L591.94,49.12 L592.79,48.79 L593.64,48.48 L594.49,48.19 L595.35,47.91 L596.20,47.66 L597.05,47.41 L597.90,47.19 L598.75,46.97 L599.60,46.77 L600.45,46.59 L601.30,46.41 L602.15,46.24 L603.00,46.09 L603.85,45.94 L604.70,45.81 L605.55,45.68 L606.40,45.56 L607.25,45.44 L608.10,45.34 L608.95,45.24 L609.80,45.15 L610.65,45.06 L611.50,44.98 L612.35,44.90 L613.20,44.83 L614.05,44.76 L614.90,44.70 L615.75,44.64 L616.60,44.58 L617.45,44.53 L618.30,44.48 L619.15,44.44 L620.00,44.39 L620.85,44.35 L621.70,44.32 L622.56,44.28 L623.41,44.25 L624.26,44.22 L625.11,44.19 L625.96,44.16 L626.81,44.13 L627.66,44.11 L628.51,44.09 L629.36,44.07 L630.21,44.05 L631.06,44.03 L631.91,44.01 L632.76,44.00 L633.61,43.98 L634.46,43.97 L635.31,43.95" fill="none" stroke="#1c3cff" stroke-width="2.3" stroke-dasharray="15.6 7.7" stroke-dashoffset="0" stroke-linejoin="round"/>
<path transform="translate(0.5,0.5)" d="M432.08,234.63 L432.94,233.79 L433.79,232.95 L434.64,232.11 L435.49,231.27 L436.34,230.43 L437.19,229.58 L438.04,228.74 L438.89,227.90 L439.74,227.06 L440.59,226.22 L441.44,225.38 L442.29,224.54 L443.14,223.70 L443.99,222.86 L444.84,222.02 L445.69,221.18 L446.54,220.34 L447.39,219.50 L448.24,218.66 L449.09,217.82 L449.94,216.97 L450.79,216.13 L451.64,215.29 L452.49,214.45 L453.34,213.61 L454.19,212.77 L455.04,211.93 L455.89,211.09 L456.74,210.25 L457.59,209.41 L458.44,208.57 L459.30,207.73 L460.15,206.89 L461.00,206.05 L461.85,205.20 L462.70,204.36 L463.55,203.52 L464.40,202.68 L465.25,201.84 L466.10,201.00 L466.95,200.16 L467.80,199.32 L468.65,198.48 L469.50,197.64 L470.35,196.80 L471.20,195.96 L472.05,195.12 L472.90,194.28 L473.75,193.43 L474.60,192.59 L475.45,191.75 L476.30,190.91 L477.15,190.07 L478.00,189.23 L478.85,188.39 L479.70,187.55 L480.55,186.71 L481.40,185.87 L482.25,185.03 L483.10,184.19 L483.95,183.35 L484.80,182.51 L485.65,181.67 L486.51,180.82 L487.36,179.98 L488.21,179.14 L489.06,178.30 L489.91,177.46 L490.76,176.62 L491.61,175.78 L492.46,174.94 L493.31,174.10 L494.16,173.26 L495.01,172.42 L495.86,171.58 L496.71,170.74 L497.56,169.90 L498.41,169.05 L499.26,168.21 L500.11,167.37 L500.96,166.53 L501.81,165.69 L502.66,164.85 L503.51,164.01 L504.36,163.17 L505.21,162.33 L506.06,161.49 L506.91,160.65 L507.76,159.81 L508.61,158.97 L509.46,158.13 L510.31,157.28 L511.16,156.44 L512.01,155.60 L512.86,154.76 L513.72,153.92 L514.57,153.08 L515.42,152.24 L516.27,151.40 L517.12,150.56 L517.97,149.72 L518.82,148.88 L519.67,148.04 L520.52,147.20 L521.37,146.36 L522.22,145.52 L523.07,144.67 L523.92,143.83 L524.77,142.99 L525.62,142.15 L526.47,141.31 L527.32,140.47 L528.17,139.63 L529.02,138.79 L529.87,137.95 L530.72,137.11 L531.57,136.27 L532.42,135.43 L533.27,134.59 L534.12,133.75 L534.97,132.90 L535.82,132.06 L536.67,131.22 L537.52,130.38 L538.37,129.54 L539.22,128.70 L540.07,127.86 L540.93,127.02 L541.78,126.18 L542.63,125.34 L543.48,124.50 L544.33,123.66 L545.18,122.82 L546.03,121.98 L546.88,121.13 L547.73,120.29 L548.58,119.45 L549.43,118.61 L550.28,117.77 L551.13,116.93 L551.98,116.09 L552.83,115.25 L553.68,114.41 L554.53,113.57 L555.38,112.73 L556.23,111.89 L557.08,111.05 L557.93,110.21 L558.78,109.37 L559.63,108.52 L560.48,107.68 L561.33,106.84 L562.18,106.00 L563.03,105.16 L563.88,104.32 L564.73,103.48 L565.58,102.64 L566.43,101.80 L567.28,100.96 L568.14,100.12 L568.99,99.28 L569.84,98.44 L570.69,97.60 L571.54,96.75 L572.39,95.91 L573.24,95.07 L574.09,94.23 L574.94,93.39 L575.79,92.55 L576.64,91.71 L577.49,90.87 L578.34,90.03 L579.19,89.19 L580.04,88.35 L580.89,87.51 L581.74,86.67 L582.59,85.83 L583.44,84.98 L584.29,84.14 L585.14,83.30 L585.99,82.46 L586.84,81.62 L587.69,80.78 L588.54,79.94 L589.39,79.10 L590.24,78.26 L591.09,77.42 L591.94,76.58 L592.79,75.74 L593.64,74.90 L594.49,74.06 L595.35,73.22 L596.20,72.37 L597.05,71.53 L597.90,70.69 L598.75,69.85 L599.60,69.01 L600.45,68.17 L601.30,67.33 L602.15,66.49 L603.00,65.65 L603.85,64.81 L604.70,63.97 L605.55,63.13 L606.40,62.29 L607.25,61.45 L608.10,60.60 L608.95,59.76 L609.80,58.92 L610.65,58.08 L611.50,57.24 L612.35,56.40 L613.20,55.56 L614.05,54.72 L614.90,53.88 L615.75,53.04 L616.60,52.20 L617.45,51.36 L618.30,50.52 L619.15,49.68 L620.00,48.84 L620.85,47.99 L621.70,47.15 L622.56,46.31 L623.41,45.47 L624.26,44.63 L625.11,43.79 L625.96,42.95 L626.81,42.11 L627.66,41.27 L628.51,40.43 L629.36,39.59 L630.21,38.75 L631.06,37.91 L631.91,37.07 L632.76,36.22 L633.61,35.38 L634.46,34.54 L635.31,33.70" fill="none" stroke="#1c3cff" stroke-width="2.3" stroke-linejoin="round"/>
<path transform="translate(0.5,0.5)" d="M413.40,352.01 L414.80,353.22 L416.19,354.41 L417.59,355.60 L418.99,356.77 L420.39,357.94 L421.78,359.09 L423.18,360.23 L424.58,361.36 L425.98,362.47 L427.37,363.58 L428.77,364.67 L430.17,365.75 L431.57,366.82 L432.96,367.88 L434.36,368.93 L435.76,369.97 L437.16,370.99 L438.55,372.01 L439.95,373.01 L441.35,374.00 L442.75,374.98 L444.14,375.95 L445.54,376.91 L446.94,377.86 L448.34,378.79 L449.73,379.72 L451.13,380.63 L452.53,381.53 L453.93,382.42 L455.32,383.30 L456.72,384.17 L458.12,385.03 L459.52,385.87 L460.91,386.71 L462.31,387.53 L463.71,388.35 L465.11,389.15 L466.50,389.94 L467.90,390.72 L469.30,391.49 L470.70,392.25 L472.09,393.00 L473.49,393.73 L474.89,394.46 L476.29,395.17 L477.68,395.88 L479.08,396.57 L480.48,397.25 L481.88,397.93 L483.27,398.59 L484.67,399.24 L486.07,399.88 L487.47,400.51 L488.86,401.12 L490.26,401.73 L491.66,402.33 L493.06,402.92 L494.45,403.49 L495.85,404.06 L497.25,404.61 L498.65,405.16 L500.04,405.69 L501.44,406.21 L502.84,406.73 L504.24,407.23 L505.63,407.72 L507.03,408.20 L508.43,408.67 L509.83,409.13 L511.22,409.58 L512.62,410.02 L514.02,410.45 L515.42,410.87 L516.81,411.28 L518.21,411.68 L519.61,412.07 L521.01,412.44 L522.40,412.81 L523.80,413.17 L525.20,413.52 L526.60,413.85 L527.99,414.18 L529.39,414.50 L530.79,414.80 L532.19,415.10 L533.58,415.39 L534.98,415.66 L536.38,415.93 L537.78,416.19 L539.17,416.43 L540.57,416.67 L541.97,416.90 L543.37,417.11 L544.76,417.32 L546.16,417.51 L547.56,417.70 L548.96,417.88 L550.35,418.04 L551.75,418.20 L553.15,418.35 L554.55,418.49 L555.94,418.61 L557.34,418.73 L558.74,418.84 L560.14,418.94 L561.53,419.02 L562.93,419.10 L564.33,419.17 L565.73,419.23 L567.12,419.28 L568.52,419.32 L569.92,419.35 L571.32,419.37 L572.71,419.38 L574.11,419.39 L575.51,419.38 L576.91,419.36 L578.30,419.33 L579.70,419.30 L581.10,419.25 L582.50,419.20 L583.89,419.13 L585.29,419.06 L586.69,418.97 L588.09,418.88 L589.48,418.78 L590.88,418.67 L592.28,418.55 L593.68,418.42 L595.07,418.28 L596.47,418.13 L597.87,417.97 L599.27,417.80 L600.66,417.62 L602.06,417.44 L603.46,417.24 L604.86,417.04 L606.25,416.83 L607.65,416.60 L609.05,416.37 L610.45,416.13 L611.84,415.88 L613.24,415.62 L614.64,415.35 L616.04,415.08 L617.43,414.79 L618.83,414.50 L620.23,414.19 L621.63,413.88 L623.02,413.56 L624.42,413.23 L625.82,412.89 L627.22,412.54 L628.61,412.18 L630.01,411.82 L631.41,411.44 L632.81,411.06 L634.20,410.67 L635.60,410.26" fill="none" stroke="#000" stroke-width="2.3" stroke-linejoin="round"/>
<path transform="translate(0.5,0.5)" d="M413.40,439.30 L414.80,440.43 L416.19,441.55 L417.59,442.67 L418.99,443.77 L420.39,444.86 L421.78,445.94 L423.18,447.01 L424.58,448.08 L425.98,449.13 L427.37,450.17 L428.77,451.21 L430.17,452.23 L431.57,453.25 L432.96,454.25 L434.36,455.25 L435.76,456.23 L437.16,457.21 L438.55,458.18 L439.95,459.13 L441.35,460.08 L442.75,461.02 L444.14,461.94 L445.54,462.86 L446.94,463.77 L448.34,464.67 L449.73,465.56 L451.13,466.44 L452.53,467.31 L453.93,468.17 L455.32,469.02 L456.72,469.86 L458.12,470.69 L459.52,471.51 L460.91,472.32 L462.31,473.12 L463.71,473.91 L465.11,474.70 L466.50,475.47 L467.90,476.23 L469.30,476.98 L470.70,477.72 L472.09,478.46 L473.49,479.18 L474.89,479.89 L476.29,480.60 L477.68,481.29 L479.08,481.97 L480.48,482.65 L481.88,483.31 L483.27,483.97 L484.67,484.61 L486.07,485.24 L487.47,485.87 L488.86,486.48 L490.26,487.09 L491.66,487.68 L493.06,488.27 L494.45,488.84 L495.85,489.41 L497.25,489.96 L498.65,490.51 L500.04,491.04 L501.44,491.57 L502.84,492.08 L504.24,492.59 L505.63,493.08 L507.03,493.57 L508.43,494.04 L509.83,494.51 L511.22,494.97 L512.62,495.41 L514.02,495.85 L515.42,496.27 L516.81,496.69 L518.21,497.09 L519.61,497.49 L521.01,497.87 L522.40,498.25 L523.80,498.61 L525.20,498.97 L526.60,499.32 L527.99,499.65 L529.39,499.98 L530.79,500.29 L532.19,500.60 L533.58,500.89 L534.98,501.18 L536.38,501.45 L537.78,501.71 L539.17,501.97 L540.57,502.21 L541.97,502.45 L543.37,502.67 L544.76,502.89 L546.16,503.09 L547.56,503.28 L548.96,503.47 L550.35,503.64 L551.75,503.80 L553.15,503.96 L554.55,504.10 L555.94,504.23 L557.34,504.36 L558.74,504.47 L560.14,504.57 L561.53,504.66 L562.93,504.74 L564.33,504.81 L565.73,504.88 L567.12,504.93 L568.52,504.97 L569.92,505.00 L571.32,505.02 L572.71,505.03 L574.11,505.03 L575.51,505.02 L576.91,505.00 L578.30,504.97 L579.70,504.92 L581.10,504.87 L582.50,504.81 L583.89,504.74 L585.29,504.66 L586.69,504.56 L588.09,504.46 L589.48,504.35 L590.88,504.22 L592.28,504.09 L593.68,503.94 L595.07,503.79 L596.47,503.62 L597.87,503.45 L599.27,503.26 L600.66,503.07 L602.06,502.86 L603.46,502.64 L604.86,502.41 L606.25,502.18 L607.65,501.93 L609.05,501.67 L610.45,501.40 L611.84,501.12 L613.24,500.83 L614.64,500.53 L616.04,500.22 L617.43,499.90 L618.83,499.56 L620.23,499.22 L621.63,498.87 L623.02,498.51 L624.42,498.13 L625.82,497.75 L627.22,497.35 L628.61,496.95 L630.01,496.53 L631.41,496.10 L632.81,495.67 L634.20,495.22 L635.60,494.76" fill="none" stroke="#000" stroke-width="2.3" stroke-linejoin="round"/>
<path transform="translate(0.5,0.5)" d="M432.40,291.72 L433.68,293.53 L434.96,295.33 L436.23,297.11 L437.51,298.89 L438.79,300.65 L440.07,302.41 L441.35,304.15 L442.62,305.88 L443.90,307.60 L445.18,309.31 L446.46,311.00 L447.74,312.69 L449.01,314.36 L450.29,316.02 L451.57,317.67 L452.85,319.31 L454.13,320.94 L455.40,322.56 L456.68,324.16 L457.96,325.76 L459.24,327.34 L460.52,328.91 L461.79,330.47 L463.07,332.01 L464.35,333.55 L465.63,335.07 L466.91,336.58 L468.18,338.08 L469.46,339.57 L470.74,341.05 L472.02,342.51 L473.30,343.96 L474.57,345.40 L475.85,346.83 L477.13,348.25 L478.41,349.66 L479.69,351.05 L480.96,352.43 L482.24,353.80 L483.52,355.16 L484.80,356.50 L486.08,357.83 L487.35,359.16 L488.63,360.46 L489.91,361.76 L491.19,363.04 L492.47,364.32 L493.74,365.58 L495.02,366.82 L496.30,368.06 L497.58,369.28 L498.86,370.49 L500.13,371.69 L501.41,372.88 L502.69,374.05 L503.97,375.21 L505.25,376.36 L506.52,377.50 L507.80,378.62 L509.08,379.74 L510.36,380.84 L511.64,381.92 L512.91,383.00 L514.19,384.06 L515.47,385.11 L516.75,386.14 L518.03,387.17 L519.30,388.18 L520.58,389.17 L521.86,390.16 L523.14,391.13 L524.42,392.09 L525.69,393.04 L526.97,393.97 L528.25,394.90 L529.53,395.80 L530.81,396.70 L532.08,397.58 L533.36,398.45 L534.64,399.31 L535.92,400.15 L537.19,400.98 L538.47,401.80 L539.75,402.61 L541.03,403.40 L542.31,404.18 L543.58,404.94 L544.86,405.70 L546.14,406.43 L547.42,407.16 L548.70,407.87 L549.97,408.57 L551.25,409.26 L552.53,409.93 L553.81,410.59 L555.09,411.24 L556.36,411.87 L557.64,412.49 L558.92,413.10 L560.20,413.69 L561.48,414.27 L562.75,414.84 L564.03,415.39 L565.31,415.93 L566.59,416.45 L567.87,416.96 L569.14,417.46 L570.42,417.95 L571.70,418.42 L572.98,418.88 L574.26,419.32 L575.53,419.75 L576.81,420.17 L578.09,420.57 L579.37,420.96 L580.65,421.33 L581.92,421.69 L583.20,422.04 L584.48,422.37 L585.76,422.69 L587.04,423.00 L588.31,423.29 L589.59,423.57 L590.87,423.83 L592.15,424.08 L593.43,424.32 L594.70,424.54 L595.98,424.75 L597.26,424.94 L598.54,425.12 L599.82,425.28 L601.09,425.44 L602.37,425.57 L603.65,425.70 L604.93,425.80 L606.21,425.90 L607.48,425.98 L608.76,426.04 L610.04,426.09 L611.32,426.13 L612.60,426.15 L613.87,426.16 L615.15,426.16 L616.43,426.14 L617.71,426.10 L618.99,426.05 L620.26,425.99 L621.54,425.91 L622.82,425.81 L624.10,425.71 L625.38,425.58 L626.65,425.45 L627.93,425.30 L629.21,425.13 L630.49,424.95 L631.77,424.75 L633.04,424.54 L634.32,424.32 L635.60,424.08" fill="none" stroke="#1c3cff" stroke-width="2.3" stroke-linejoin="round"/>
<path transform="translate(0.5,0.5)" d="M432.40,299.07 L433.68,300.42 L434.96,301.78 L436.23,303.15 L437.51,304.52 L438.79,305.91 L440.07,307.30 L441.35,308.70 L442.62,310.11 L443.90,311.52 L445.18,312.94 L446.46,314.37 L447.74,315.80 L449.01,317.23 L450.29,318.67 L451.57,320.11 L452.85,321.56 L454.13,323.01 L455.40,324.47 L456.68,325.92 L457.96,327.38 L459.24,328.84 L460.52,330.30 L461.79,331.77 L463.07,333.23 L464.35,334.70 L465.63,336.16 L466.91,337.62 L468.18,339.08 L469.46,340.55 L470.74,342.01 L472.02,343.46 L473.30,344.92 L474.57,346.37 L475.85,347.82 L477.13,349.26 L478.41,350.71 L479.69,352.14 L480.96,353.57 L482.24,355.00 L483.52,356.42 L484.80,357.84 L486.08,359.25 L487.35,360.65 L488.63,362.04 L489.91,363.43 L491.19,364.81 L492.47,366.18 L493.74,367.55 L495.02,368.90 L496.30,370.24 L497.58,371.58 L498.86,372.90 L500.13,374.22 L501.41,375.52 L502.69,376.81 L503.97,378.09 L505.25,379.36 L506.52,380.61 L507.80,381.85 L509.08,383.08 L510.36,384.29 L511.64,385.49 L512.91,386.67 L514.19,387.83 L515.47,388.98 L516.75,390.12 L518.03,391.23 L519.30,392.33 L520.58,393.41 L521.86,394.47 L523.14,395.51 L524.42,396.53 L525.69,397.54 L526.97,398.52 L528.25,399.48 L529.53,400.41 L530.81,401.33 L532.08,402.22 L533.36,403.09 L534.64,403.94 L535.92,404.76 L537.19,405.56 L538.47,406.34 L539.75,407.08 L541.03,407.81 L542.31,408.50 L543.58,409.17 L544.86,409.81 L546.14,410.43 L547.42,411.02 L548.70,411.59 L549.97,412.13 L551.25,412.65 L552.53,413.15 L553.81,413.63 L555.09,414.08 L556.36,414.51 L557.64,414.92 L558.92,415.31 L560.20,415.68 L561.48,416.03 L562.75,416.36 L564.03,416.67 L565.31,416.96 L566.59,417.24 L567.87,417.50 L569.14,417.74 L570.42,417.97 L571.70,418.18 L572.98,418.37 L574.26,418.55 L575.53,418.72 L576.81,418.87 L578.09,419.01 L579.37,419.14 L580.65,419.25 L581.92,419.36 L583.20,419.45 L584.48,419.53 L585.76,419.60 L587.04,419.66 L588.31,419.71 L589.59,419.75 L590.87,419.79 L592.15,419.81 L593.43,419.83 L594.70,419.84 L595.98,419.85 L597.26,419.85 L598.54,419.84 L599.82,419.83 L601.09,419.82 L602.37,419.80 L603.65,419.77 L604.93,419.75 L606.21,419.72 L607.48,419.69 L608.76,419.66 L610.04,419.63 L611.32,419.60 L612.60,419.56 L613.87,419.53 L615.15,419.50 L616.43,419.47 L617.71,419.44 L618.99,419.42 L620.26,419.39 L621.54,419.38 L622.82,419.36 L624.10,419.35 L625.38,419.34 L626.65,419.34 L627.93,419.35 L629.21,419.36 L630.49,419.38 L631.77,419.41 L633.04,419.44 L634.32,419.48 L635.60,419.53" fill="none" stroke="#1c3cff" stroke-width="2.3" stroke-dasharray="15.6 7.7" stroke-dashoffset="0" stroke-linejoin="round"/>
<path transform="translate(0.5,0.5)" d="M432.40,386.34 L433.68,388.01 L434.96,389.67 L436.23,391.33 L437.51,392.97 L438.79,394.60 L440.07,396.23 L441.35,397.84 L442.62,399.45 L443.90,401.04 L445.18,402.62 L446.46,404.20 L447.74,405.76 L449.01,407.32 L450.29,408.86 L451.57,410.40 L452.85,411.92 L454.13,413.44 L455.40,414.94 L456.68,416.44 L457.96,417.92 L459.24,419.39 L460.52,420.86 L461.79,422.31 L463.07,423.76 L464.35,425.19 L465.63,426.61 L466.91,428.03 L468.18,429.43 L469.46,430.82 L470.74,432.20 L472.02,433.57 L473.30,434.93 L474.57,436.28 L475.85,437.62 L477.13,438.95 L478.41,440.27 L479.69,441.58 L480.96,442.88 L482.24,444.16 L483.52,445.44 L484.80,446.70 L486.08,447.96 L487.35,449.20 L488.63,450.44 L489.91,451.66 L491.19,452.87 L492.47,454.07 L493.74,455.26 L495.02,456.44 L496.30,457.61 L497.58,458.76 L498.86,459.91 L500.13,461.04 L501.41,462.17 L502.69,463.28 L503.97,464.38 L505.25,465.47 L506.52,466.55 L507.80,467.62 L509.08,468.67 L510.36,469.72 L511.64,470.75 L512.91,471.77 L514.19,472.79 L515.47,473.79 L516.75,474.77 L518.03,475.75 L519.30,476.72 L520.58,477.67 L521.86,478.61 L523.14,479.54 L524.42,480.46 L525.69,481.37 L526.97,482.27 L528.25,483.15 L529.53,484.02 L530.81,484.88 L532.08,485.73 L533.36,486.57 L534.64,487.40 L535.92,488.21 L537.19,489.01 L538.47,489.80 L539.75,490.58 L541.03,491.35 L542.31,492.10 L543.58,492.84 L544.86,493.57 L546.14,494.29 L547.42,495.00 L548.70,495.69 L549.97,496.37 L551.25,497.04 L552.53,497.70 L553.81,498.35 L555.09,498.98 L556.36,499.60 L557.64,500.21 L558.92,500.80 L560.20,501.39 L561.48,501.96 L562.75,502.52 L564.03,503.06 L565.31,503.60 L566.59,504.12 L567.87,504.63 L569.14,505.12 L570.42,505.61 L571.70,506.08 L572.98,506.54 L574.26,506.98 L575.53,507.42 L576.81,507.84 L578.09,508.24 L579.37,508.64 L580.65,509.02 L581.92,509.39 L583.20,509.75 L584.48,510.09 L585.76,510.42 L587.04,510.74 L588.31,511.04 L589.59,511.33 L590.87,511.61 L592.15,511.88 L593.43,512.13 L594.70,512.37 L595.98,512.59 L597.26,512.81 L598.54,513.01 L599.82,513.19 L601.09,513.37 L602.37,513.53 L603.65,513.67 L604.93,513.80 L606.21,513.92 L607.48,514.03 L608.76,514.12 L610.04,514.20 L611.32,514.27 L612.60,514.32 L613.87,514.36 L615.15,514.39 L616.43,514.40 L617.71,514.40 L618.99,514.38 L620.26,514.35 L621.54,514.31 L622.82,514.25 L624.10,514.18 L625.38,514.10 L626.65,514.00 L627.93,513.89 L629.21,513.76 L630.49,513.62 L631.77,513.47 L633.04,513.30 L634.32,513.12 L635.60,512.92" fill="none" stroke="#1c3cff" stroke-width="2.3" stroke-linejoin="round"/>
<path transform="translate(0.5,0.5)" d="M432.40,393.44 L433.68,394.62 L434.96,395.82 L436.23,397.03 L437.51,398.26 L438.79,399.51 L440.07,400.77 L441.35,402.04 L442.62,403.32 L443.90,404.61 L445.18,405.92 L446.46,407.23 L447.74,408.54 L449.01,409.86 L450.29,411.19 L451.57,412.52 L452.85,413.86 L454.13,415.19 L455.40,416.53 L456.68,417.86 L457.96,419.20 L459.24,420.53 L460.52,421.85 L461.79,423.17 L463.07,424.49 L464.35,425.81 L465.63,427.12 L466.91,428.43 L468.18,429.75 L469.46,431.06 L470.74,432.38 L472.02,433.70 L473.30,435.03 L474.57,436.36 L475.85,437.70 L477.13,439.04 L478.41,440.39 L479.69,441.75 L480.96,443.11 L482.24,444.47 L483.52,445.83 L484.80,447.20 L486.08,448.57 L487.35,449.93 L488.63,451.30 L489.91,452.66 L491.19,454.03 L492.47,455.39 L493.74,456.74 L495.02,458.09 L496.30,459.44 L497.58,460.78 L498.86,462.11 L500.13,463.44 L501.41,464.75 L502.69,466.06 L503.97,467.36 L505.25,468.65 L506.52,469.92 L507.80,471.18 L509.08,472.43 L510.36,473.67 L511.64,474.89 L512.91,476.09 L514.19,477.28 L515.47,478.45 L516.75,479.60 L518.03,480.74 L519.30,481.85 L520.58,482.95 L521.86,484.02 L523.14,485.07 L524.42,486.10 L525.69,487.11 L526.97,488.09 L528.25,489.05 L529.53,489.98 L530.81,490.88 L532.08,491.76 L533.36,492.61 L534.64,493.43 L535.92,494.22 L537.19,494.98 L538.47,495.72 L539.75,496.43 L541.03,497.11 L542.31,497.77 L543.58,498.40 L544.86,499.00 L546.14,499.58 L547.42,500.14 L548.70,500.68 L549.97,501.19 L551.25,501.67 L552.53,502.14 L553.81,502.59 L555.09,503.01 L556.36,503.41 L557.64,503.79 L558.92,504.16 L560.20,504.50 L561.48,504.82 L562.75,505.13 L564.03,505.42 L565.31,505.69 L566.59,505.94 L567.87,506.18 L569.14,506.40 L570.42,506.61 L571.70,506.80 L572.98,506.98 L574.26,507.14 L575.53,507.29 L576.81,507.42 L578.09,507.55 L579.37,507.66 L580.65,507.76 L581.92,507.85 L583.20,507.93 L584.48,508.00 L585.76,508.05 L587.04,508.10 L588.31,508.14 L589.59,508.18 L590.87,508.20 L592.15,508.22 L593.43,508.23 L594.70,508.23 L595.98,508.23 L597.26,508.22 L598.54,508.21 L599.82,508.19 L601.09,508.17 L602.37,508.15 L603.65,508.12 L604.93,508.09 L606.21,508.06 L607.48,508.03 L608.76,508.00 L610.04,507.96 L611.32,507.93 L612.60,507.89 L613.87,507.86 L615.15,507.83 L616.43,507.80 L617.71,507.77 L618.99,507.75 L620.26,507.72 L621.54,507.71 L622.82,507.69 L624.10,507.68 L625.38,507.68 L626.65,507.68 L627.93,507.69 L629.21,507.70 L630.49,507.73 L631.77,507.76 L633.04,507.79 L634.32,507.84 L635.60,507.89" fill="none" stroke="#1c3cff" stroke-width="2.3" stroke-dasharray="15.6 7.7" stroke-dashoffset="0" stroke-linejoin="round"/>
</svg>
</body></html>
